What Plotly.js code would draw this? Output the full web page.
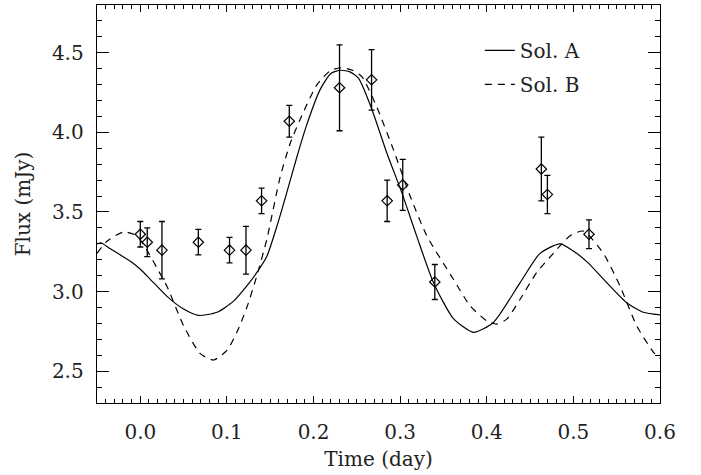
<!DOCTYPE html>
<html>
<head>
<meta charset="utf-8">
<script src="https://cdn.plot.ly/plotly-3.0.1.min.js"></script>
<style>html,body{margin:0;padding:0;background:#fff}#chart{width:701px;height:475px}</style>
</head>
<body>
<div id="chart"></div>
<script>
// Observations
const obsTime = [0.0, 0.008, 0.025, 0.067, 0.103, 0.122, 0.140, 0.172, 0.230, 0.267, 0.285, 0.303, 0.340, 0.463, 0.470, 0.518];
const obsFlux = [3.36, 3.31, 3.26, 3.31, 3.26, 3.26, 3.57, 4.07, 4.28, 4.33, 3.57, 3.67, 3.06, 3.77, 3.61, 3.36];
const obsErr  = [0.08, 0.09, 0.18, 0.08, 0.08, 0.15, 0.08, 0.10, 0.27, 0.19, 0.13, 0.16, 0.11, 0.20, 0.12, 0.09];

// Model Sol. A (solid)
const solATime = [-0.05, -0.045, -0.035, -0.0115, 0.0, 0.0115, 0.0308, 0.05, 0.0673, 0.0885, 0.1077, 0.123, 0.1346, 0.146, 0.1577, 0.169, 0.181, 0.1923, 0.2077, 0.22, 0.2310, 0.242, 0.2519, 0.267, 0.2846, 0.302, 0.319, 0.3385, 0.3615, 0.3846, 0.4077, 0.4385, 0.4615, 0.4846, 0.5038, 0.517, 0.5385, 0.5615, 0.5808, 0.6];
const solAFlux = [3.30, 3.305, 3.27, 3.19, 3.14, 3.077, 2.97, 2.89, 2.85, 2.87, 2.94, 3.035, 3.12, 3.22, 3.41, 3.62, 3.85, 4.05, 4.27, 4.37, 4.39, 4.38, 4.34, 4.15, 3.87, 3.62, 3.35, 3.056, 2.83, 2.744, 2.806, 3.056, 3.24, 3.30, 3.24, 3.18, 3.056, 2.93, 2.87, 2.854];

// Model Sol. B (dashed)
const solBTime = [-0.05, -0.0385, -0.019, -0.004, 0.0077, 0.019, 0.031, 0.05, 0.0692, 0.0846, 0.1, 0.1115, 0.123, 0.1346, 0.146, 0.1615, 0.173, 0.1885, 0.204, 0.22, 0.2327, 0.245, 0.2558, 0.273, 0.2923, 0.3115, 0.3308, 0.3615, 0.3808, 0.4, 0.4115, 0.4231, 0.4385, 0.4577, 0.4769, 0.4962, 0.5115, 0.5346, 0.5538, 0.5731, 0.5923, 0.6];
const solBFlux = [3.24, 3.316, 3.375, 3.35, 3.26, 3.15, 3.03, 2.785, 2.61, 2.57, 2.63, 2.744, 2.90, 3.10, 3.327, 3.72, 3.93, 4.13, 4.30, 4.39, 4.406, 4.39, 4.35, 4.16, 3.89, 3.60, 3.35, 3.077, 2.91, 2.816, 2.796, 2.827, 2.952, 3.12, 3.24, 3.35, 3.38, 3.24, 3.035, 2.785, 2.62, 2.58];

const seriesNames = ['Sol. A', 'Sol. B'];

const FONT = 'DejaVu Serif, Liberation Serif, serif';
const INK = '#222';
const FS = 20;

const traces = [
  {x: solATime, y: solAFlux, mode: 'lines', name: seriesNames[0], legendgroup: 'a',
   line: {color: 'black', width: 1.2, shape: 'spline', smoothing: 0.6}},
  {x: solBTime, y: solBFlux, mode: 'lines', name: seriesNames[1], legendgroup: 'b',
   line: {color: 'black', width: 1.2, dash: '7px,6px', shape: 'spline', smoothing: 0.6}},
  {x: obsTime, y: obsFlux, mode: 'markers', showlegend: false,
   marker: {symbol: 'diamond-open', size: 8, color: 'black', line: {width: 1.2, color: 'black'}},
   error_y: {type: 'data', array: obsErr, visible: true, color: 'black', thickness: 1.3, width: 3}}
];

const layout = {
  width: 701, height: 475,
  margin: {l: 97, r: 41, t: 5, b: 72},
  paper_bgcolor: 'white', plot_bgcolor: 'white',
  font: {family: FONT, size: FS, color: INK},
  showlegend: true,
  legend: {x: 0.68, y: 0.935, xanchor: 'left', yanchor: 'top', bgcolor: 'rgba(0,0,0,0)',
           font: {family: FONT, size: FS, color: INK}, traceorder: 'grouped', tracegroupgap: 5},
  xaxis: {
    range: [-0.05, 0.6], tick0: 0, dtick: 0.1, tickformat: '.1f',
    showgrid: false, zeroline: false, showline: true, linecolor: 'black', linewidth: 1.3,
    mirror: 'allticks', ticks: 'inside', ticklen: 7, tickwidth: 1, tickcolor: 'black',
    minor: {dtick: 0.01, ticks: 'inside', ticklen: 4, tickwidth: 1, tickcolor: 'black', showgrid: false},
    ticklabelstandoff: 11,
    tickfont: {family: FONT, size: FS, color: INK},
    title: {text: 'Time (day)', font: {family: FONT, size: FS, color: INK}, standoff: 8}
  },
  yaxis: {
    range: [2.3, 4.8], tick0: 2.5, dtick: 0.5, tickformat: '.1f',
    showgrid: false, zeroline: false, showline: true, linecolor: 'black', linewidth: 1.3,
    mirror: 'allticks', ticks: 'inside', ticklen: 12, tickwidth: 1, tickcolor: 'black',
    minor: {dtick: 0.1, ticks: 'inside', ticklen: 5, tickwidth: 1, tickcolor: 'black', showgrid: false},
    ticklabelstandoff: 8,
    tickfont: {family: FONT, size: FS, color: INK},
    title: {text: 'Flux (mJy)', font: {family: FONT, size: FS, color: INK}, standoff: 16}
  }
};

Plotly.newPlot('chart', traces, layout, {displayModeBar: false, staticPlot: true});
</script>
</body>
</html>
